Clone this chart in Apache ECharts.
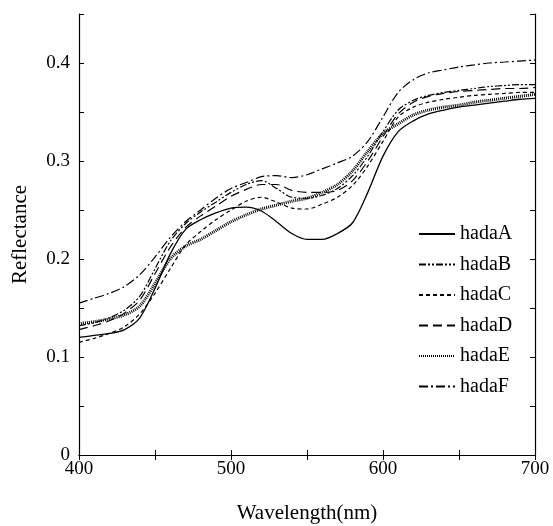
<!DOCTYPE html>
<html>
<head>
<meta charset="utf-8">
<script src="https://cdn.jsdelivr.net/npm/echarts@6/dist/echarts.min.js"></script>
<style>
html, body { margin: 0; padding: 0; background: #fff; }
#chart { width: 553px; height: 526px; }
</style>
</head>
<body>
<div id="chart"></div>
<script>
// 波长 (nm)
const wavelengths = [400, 410, 420, 430, 440, 450, 460, 470, 480, 490, 500, 510, 520, 530, 540, 550,
    560, 570, 580, 590, 600, 610, 620, 630, 640, 650, 660, 670, 680, 690, 700];

// 各样本反射率
const hadaA = [0.120, 0.122, 0.124, 0.128, 0.140, 0.170, 0.205, 0.230, 0.240, 0.247, 0.252, 0.253, 0.249, 0.238, 0.226, 0.220,
    0.220, 0.226, 0.237, 0.268, 0.305, 0.330, 0.341, 0.348, 0.352, 0.355, 0.357, 0.359, 0.361, 0.363, 0.364];
const hadaB = [0.132, 0.135, 0.140, 0.148, 0.162, 0.190, 0.218, 0.236, 0.248, 0.258, 0.268, 0.276, 0.280, 0.272, 0.263, 0.262,
    0.265, 0.272, 0.285, 0.305, 0.330, 0.352, 0.362, 0.367, 0.370, 0.372, 0.374, 0.376, 0.377, 0.378, 0.378];
const hadaC = [0.115, 0.119, 0.124, 0.131, 0.144, 0.165, 0.190, 0.214, 0.228, 0.240, 0.250, 0.259, 0.263, 0.258, 0.252, 0.251,
    0.256, 0.263, 0.275, 0.295, 0.320, 0.345, 0.355, 0.360, 0.363, 0.365, 0.367, 0.368, 0.369, 0.370, 0.370];
const hadaD = [0.128, 0.132, 0.137, 0.145, 0.158, 0.185, 0.212, 0.232, 0.244, 0.254, 0.264, 0.271, 0.276, 0.276, 0.270, 0.268,
    0.268, 0.270, 0.280, 0.300, 0.325, 0.348, 0.360, 0.366, 0.369, 0.371, 0.372, 0.373, 0.374, 0.374, 0.375];
const hadaE = [0.134, 0.136, 0.139, 0.143, 0.152, 0.175, 0.200, 0.213, 0.220, 0.229, 0.238, 0.245, 0.251, 0.255, 0.259, 0.262,
    0.268, 0.276, 0.290, 0.310, 0.328, 0.338, 0.347, 0.352, 0.355, 0.357, 0.360, 0.362, 0.364, 0.366, 0.368];
const hadaF = [0.155, 0.160, 0.165, 0.172, 0.184, 0.202, 0.222, 0.238, 0.250, 0.262, 0.272, 0.278, 0.284, 0.285, 0.283, 0.286,
    0.292, 0.298, 0.305, 0.320, 0.345, 0.370, 0.383, 0.390, 0.393, 0.396, 0.398, 0.400, 0.401, 0.402, 0.403];

const seriesNames = ['hadaA', 'hadaB', 'hadaC', 'hadaD', 'hadaE', 'hadaF'];
const seriesValues = [hadaA, hadaB, hadaC, hadaD, hadaE, hadaF];
// 线型
const lineTypes = ['solid', [7, 2, 2, 2, 2, 2], [4, 3], [9, 5], [1, 1], [9, 3, 2, 3]];
const lineWidths = [1.3, 1.2, 1.2, 1.2, 3, 1.2];

const fontFamily = '"Liberation Serif", "Times New Roman", serif';

const chart = echarts.init(document.getElementById('chart'));

const series = seriesNames.map((name, i) => ({
    name: name,
    type: 'line',
    symbol: 'none',
    smooth: 0.3,
    data: wavelengths.map((w, j) => [w, seriesValues[i][j]]),
    lineStyle: { color: '#000', width: lineWidths[i], type: lineTypes[i] },
    itemStyle: { color: '#000' },
    z: i === 0 ? 3 : 2
}));

const tickStyle = { show: true, inside: true, length: 5, lineStyle: { color: '#000', width: 1 } };
const lineStyle = { show: true, lineStyle: { color: '#000', width: 1.2 } };

chart.setOption({
    animation: false,
    backgroundColor: '#fff',
    grid: { left: 79, right: 18, top: 14, bottom: 71, containLabel: false, outerBoundsMode: 'none' },
    legend: {
        orient: 'vertical',
        left: 413,
        top: 219,
        itemWidth: 36,
        itemHeight: 14,
        itemGap: 10.5,
        data: seriesNames,
        itemStyle: { opacity: 0 },
        textStyle: { fontFamily: fontFamily, fontSize: 20, color: '#000' }
    },
    xAxis: [{
        type: 'value',
        min: 400,
        max: 700,
        interval: 50,
        name: 'Wavelength(nm)',
        nameLocation: 'middle',
        nameGap: 48,
        nameTextStyle: { fontFamily: fontFamily, fontSize: 21, color: '#000' },
        axisLine: lineStyle,
        axisTick: tickStyle,
        splitLine: { show: false },
        axisLabel: {
            fontFamily: fontFamily,
            fontSize: 19,
            color: '#000',
            margin: 5,
            formatter: v => (v % 100 === 0 ? String(v) : '')
        }
    }, {
        type: 'value',
        position: 'top',
        min: 400,
        max: 700,
        interval: 50,
        axisLine: lineStyle,
        axisTick: tickStyle,
        axisLabel: { show: false },
        splitLine: { show: false }
    }],
    yAxis: [{
        type: 'value',
        min: 0,
        max: 0.45,
        interval: 0.05,
        name: 'Reflectance',
        nameLocation: 'middle',
        nameGap: 48,
        nameTextStyle: { fontFamily: fontFamily, fontSize: 21, color: '#000' },
        axisLine: lineStyle,
        axisTick: tickStyle,
        splitLine: { show: false },
        axisLabel: {
            fontFamily: fontFamily,
            fontSize: 19,
            color: '#000',
            margin: 9,
            formatter: v => {
                const k = Math.round(v * 100);
                if (k % 10 !== 0) return '';
                return k === 0 ? '0' : (k / 100).toFixed(1);
            }
        }
    }, {
        type: 'value',
        position: 'right',
        min: 0,
        max: 0.45,
        interval: 0.05,
        axisLine: lineStyle,
        axisTick: tickStyle,
        axisLabel: { show: false },
        splitLine: { show: false }
    }],
    series: series
});

window.addEventListener('resize', function () {
    chart.resize();
});
</script>
</body>
</html>
